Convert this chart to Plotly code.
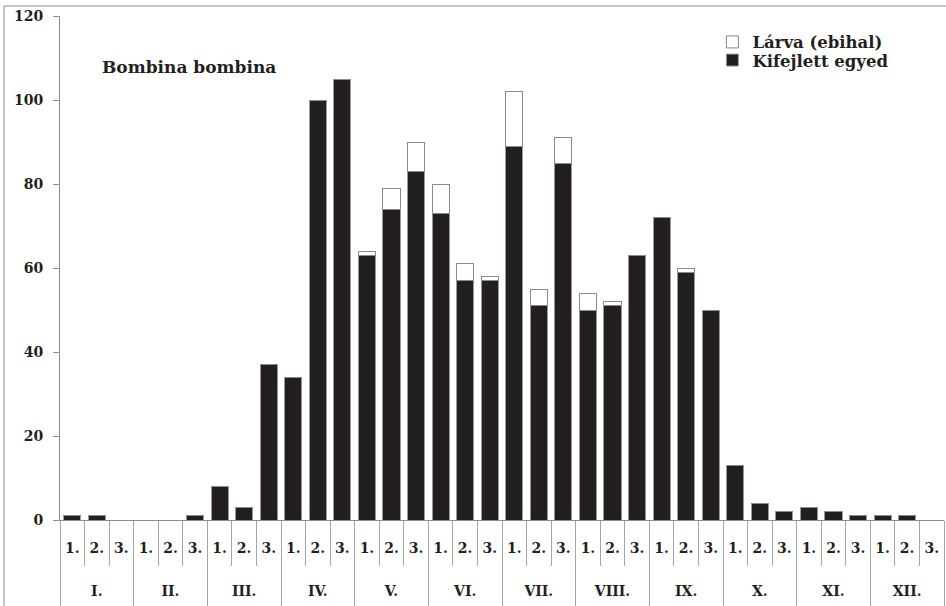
import plotly.graph_objects as go

months = ["I.", "II.", "III.", "IV.", "V.", "VI.", "VII.", "VIII.", "IX.", "X.", "XI.", "XII."]
decades = ["1.", "2.", "3."]

adults = [1, 1, 0,
          0, 0, 1,
          8, 3, 37,
          34, 100, 105,
          63, 74, 83,
          73, 57, 57,
          89, 51, 85,
          50, 51, 63,
          72, 59, 50,
          13, 4, 2,
          3, 2, 1,
          1, 1, 0]
larvae = [0, 0, 0,
          0, 0, 0,
          0, 0, 0,
          0, 0, 0,
          1, 5, 7,
          7, 4, 1,
          13, 4, 6,
          4, 1, 0,
          0, 1, 0,
          0, 0, 0,
          0, 0, 0,
          0, 0, 0]

y_ticks = [0, 20, 40, 60, 80, 100, 120]

# category keys (unique) and their displayed decade labels
keys = [f"{m} {d}" for m in months for d in decades]
key_text = [d for _ in months for d in decades]
nd = len(decades)
n = len(keys)
bounds = [i - 0.5 for i in range(n + 1)]
month_bounds = [k * nd - 0.5 for k in range(len(months) + 1)]
month_centers = [k * nd + (nd - 1) / 2 for k in range(len(months))]

FONT = "DejaVu Serif"
TXT = "#231f20"
LINE = "#8c8c8c"
SEP = "#a6a6a6"

fig = go.Figure()
fig.add_trace(go.Bar(
    x=keys, y=adults, name="Kifejlett egyed", legend="legend2",
    marker=dict(color="#231f20", line=dict(color="#9a9a9a", width=1)),
))
fig.add_trace(go.Bar(
    x=keys, y=larvae, name="Lárva (ebihal)", legend="legend",
    marker=dict(color="#ffffff", line=dict(color="#8a8a8a", width=1)),
))
for ax in ["x2", "x3", "x4"]:
    fig.add_trace(go.Scatter(x=[], y=[], xaxis=ax, yaxis="y", showlegend=False, hoverinfo="skip"))

tickfont = dict(family=FONT, size=14, color=TXT, weight="bold")
overlay = dict(type="linear", overlaying="x", anchor="y", range=[-0.5, n - 0.5],
               showline=False, showgrid=False, zeroline=False, automargin=False,
               fixedrange=True)

fig.update_layout(
    width=946, height=606,
    margin=dict(l=60, r=2, t=16, b=86),
    barmode="stack", bargap=0.3,
    plot_bgcolor="white", paper_bgcolor="white",
    font=dict(family=FONT, color=TXT, size=14, weight="bold"),
    showlegend=True,
    legend=dict(x=0.738, y=0.948, xanchor="left", yanchor="middle",
                font=dict(family=FONT, size=16.5, color=TXT, weight="bold"),
                bgcolor="rgba(0,0,0,0)", itemwidth=30),
    legend2=dict(x=0.738, y=0.912, xanchor="left", yanchor="middle",
                 font=dict(family=FONT, size=16.5, color=TXT, weight="bold"),
                 bgcolor="rgba(0,0,0,0)", itemwidth=30),
    xaxis=dict(type="category", range=[-0.5, n - 0.5], automargin=False,
               showline=True, linecolor=LINE, linewidth=1,
               tickmode="array", tickvals=keys, ticktext=key_text,
               ticks="", ticklabelstandoff=15, tickfont=tickfont, showgrid=False),
    xaxis2=dict(overlay, tickmode="array", tickvals=bounds, ticks="outside",
                ticklen=45, tickcolor=SEP, tickwidth=1, showticklabels=False),
    xaxis3=dict(overlay, tickmode="array", tickvals=month_bounds, ticks="outside",
                ticklen=86, tickcolor=SEP, tickwidth=1, showticklabels=False),
    xaxis4=dict(overlay, tickmode="array", tickvals=month_centers, ticktext=months,
                ticks="", ticklabelstandoff=61, tickfont=tickfont, showticklabels=True),
    yaxis=dict(range=[0, 120], tickmode="array", tickvals=y_ticks, ticks="outside",
               ticklen=6, tickcolor=LINE, automargin=False, ticklabelstandoff=7,
               showline=True, linecolor=LINE, linewidth=1, showgrid=False, zeroline=False,
               tickfont=dict(family=FONT, size=14, color=TXT, weight="bold")),
    annotations=[dict(text="Bombina bombina", x=0.146, y=0.899, xref="paper", yref="paper",
                      xanchor="center", yanchor="middle", showarrow=False,
                      font=dict(family=FONT, size=17, color=TXT, weight="bold"))],
    shapes=[dict(type="rect", xref="paper", yref="paper", x0=-0.0633, x1=1.5, y0=-1, y1=1.0198,
                 line=dict(color=LINE, width=1), fillcolor="rgba(0,0,0,0)", layer="below")],
)

fig.write_html("out.html", config={"displayModeBar": False},
               post_script="document.body.style.margin='0';")
